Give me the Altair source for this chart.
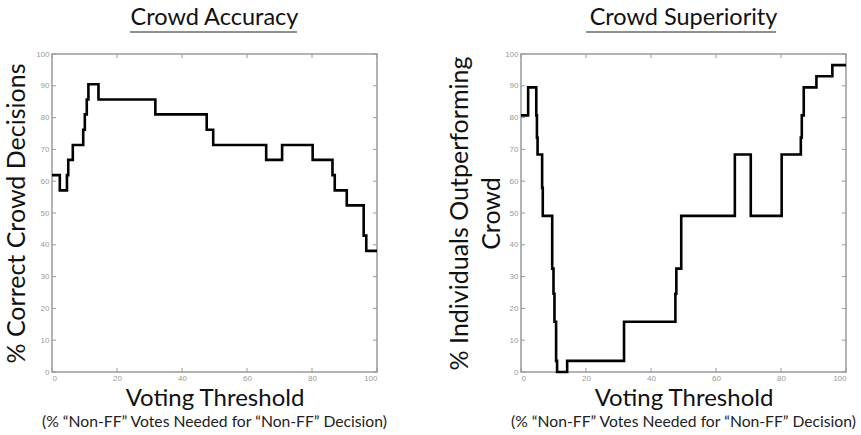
import altair as alt
import pandas as pd

# ---- data ----
acc_x = [0, 2.4, 4.6, 5.0, 6.4, 9.6, 10.1, 10.7, 11.2, 14.3, 31.8, 47.6, 49.6,
         65.9, 70.8, 80.2, 86.3, 87.0, 90.7, 95.9, 96.7, 100]
acc_y = [61.9, 57.1, 61.9, 66.7, 71.4, 76.2, 81.0, 85.7, 90.5, 85.7, 81.0, 76.2, 71.4,
         66.7, 71.4, 66.7, 61.9, 57.1, 52.4, 42.9, 38.1, 38.1]

sup_x = [0, 2.2, 4.7, 4.9, 5.1, 6.5, 6.7, 9.6, 10.0, 10.3, 10.8, 11.1, 14.2, 31.7,
         47.5, 47.8, 49.3, 65.8, 70.7, 80.2, 86.1, 86.4, 87.0, 90.9, 95.8, 100]
sup_y = [80.7, 89.5, 80.7, 73.7, 68.4, 57.9, 49.1, 32.5, 24.6, 15.8, 3.5, 0, 3.5, 15.8,
         24.6, 32.5, 49.1, 68.4, 49.1, 68.4, 73.7, 80.7, 89.5, 93.0, 96.5, 96.5]

x_ticks = [0, 20, 40, 60, 80, 100]
y_ticks = [0, 10, 20, 30, 40, 50, 60, 70, 80, 90, 100]

titles = ["Crowd Accuracy", "Crowd Superiority"]
y_titles = ["% Correct Crowd Decisions", ["% Individuals Outperforming", "Crowd"]]
x_title = "Voting Threshold"
x_subtitle = "(% \u201cNon-FF\u201d Votes Needed for \u201cNon-FF\u201d Decision)"

W, H = 325, 318
FONT = "Lato"
GRAY = "#9a9a9a"


def panel(xs, ys, title, ytitle, ul, ypad):
    df = pd.DataFrame({"x": xs, "y": ys})
    one = pd.DataFrame({"k": [0]})
    xsc = alt.Scale(domain=[0, 100], nice=False, zero=False)
    ysc = alt.Scale(domain=[0, 100], nice=False)
    x_axis = alt.Axis(
        values=x_ticks, title=x_title, grid=False, domain=False, tickSize=0,
        labelPadding=2, labelFontSize=8, labelColor=GRAY, labelFont="Liberation Sans",
        labelOverlap=False,
        titleFont=FONT, titleFontSize=24, titleFontWeight="normal", titleColor="#111",
        titlePadding=4)
    y_axis = alt.Axis(
        values=y_ticks, title=ytitle, grid=False, domain=False, tickSize=0,
        labelPadding=3, labelFontSize=8, labelColor=GRAY, labelFont="Liberation Sans",
        labelOverlap=False,
        titleFont=FONT, titleFontSize=25, titleFontWeight="normal", titleColor="#111",
        titlePadding=ypad, titleLineHeight=32)
    line = alt.Chart(df).mark_line(
        interpolate="step-after", color="black", strokeWidth=2.6
    ).encode(
        x=alt.X("x:Q", scale=xsc, axis=x_axis),
        y=alt.Y("y:Q", scale=ysc, axis=y_axis),
    )
    xt = pd.DataFrame({"x": x_ticks})
    yt = pd.DataFrame({"y": y_ticks})
    tb = alt.Chart(xt).mark_rule(color=GRAY, strokeWidth=1).encode(
        x=alt.X("x:Q", scale=xsc, axis=x_axis), y=alt.value(H), y2=alt.value(H - 4))
    tt = alt.Chart(xt).mark_rule(color=GRAY, strokeWidth=1).encode(
        x=alt.X("x:Q", scale=xsc, axis=x_axis), y=alt.value(0), y2=alt.value(4))
    tl = alt.Chart(yt).mark_rule(color=GRAY, strokeWidth=1).encode(
        y=alt.Y("y:Q", scale=ysc, axis=y_axis), x=alt.value(0), x2=alt.value(4))
    tr = alt.Chart(yt).mark_rule(color=GRAY, strokeWidth=1).encode(
        y=alt.Y("y:Q", scale=ysc, axis=y_axis), x=alt.value(W), x2=alt.value(W - 4))
    sub = alt.Chart(one).mark_text(
        font=FONT, fontSize=15.7, color="#222", align="center", baseline="middle"
    ).encode(x=alt.value(W / 2), y=alt.value(H + 50), text=alt.value(x_subtitle))
    under = alt.Chart(one).mark_rule(color="#222", strokeWidth=1.2).encode(
        x=alt.value(ul[0]), x2=alt.value(ul[1]), y=alt.value(-22))
    return alt.layer(line, tb, tt, tl, tr, sub, under).properties(
        width=W, height=H,
        title=alt.TitleParams(title, font=FONT, fontSize=23.5, fontWeight="normal",
                              color="#111", anchor="middle", frame="group", offset=2),
    )


left = panel(acc_x, acc_y, titles[0], y_titles[0], (78, 245), 6)
right = panel(sup_x, sup_y, titles[1], y_titles[1], (65, 255), 0)

chart = alt.hconcat(left, right, spacing=57).properties(
    padding={"left": 3, "top": 5, "right": 2, "bottom": 2}
).configure_view(stroke=GRAY, strokeWidth=1.5)

chart.save("out.html", embed_options={"renderer": "svg", "actions": False})
